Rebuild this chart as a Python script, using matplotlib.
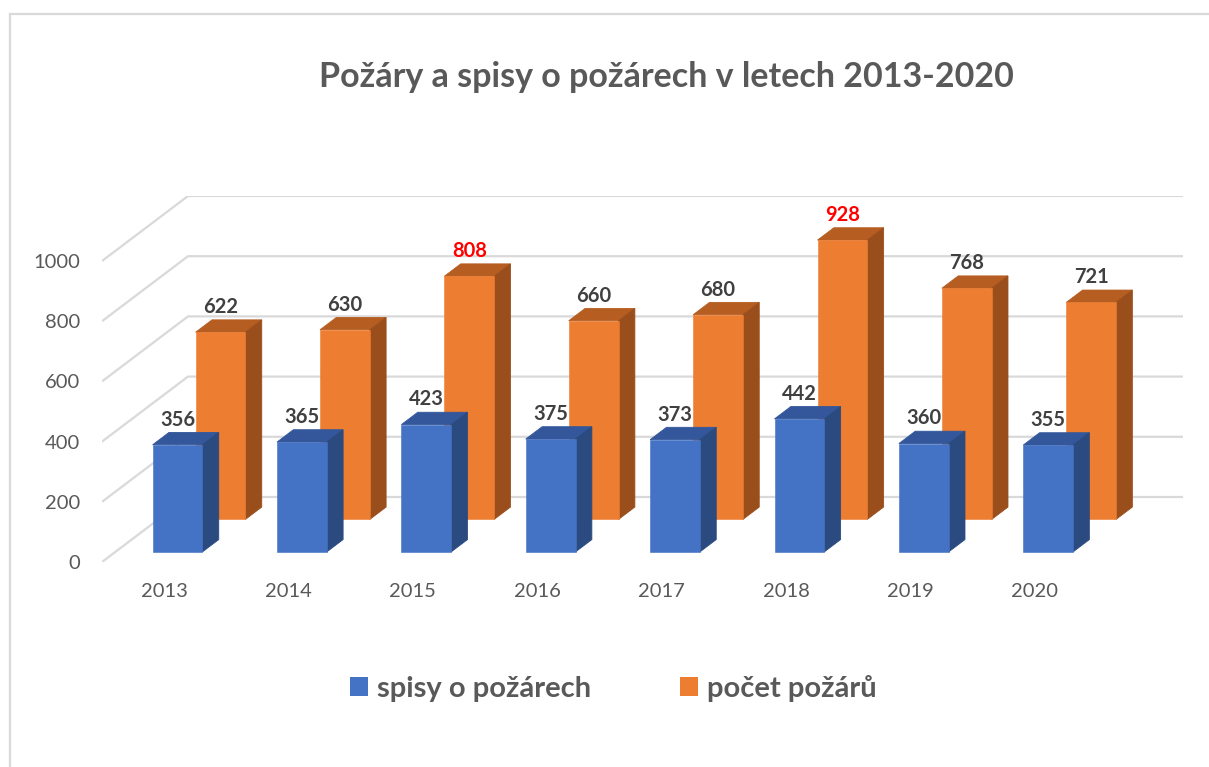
import matplotlib
matplotlib.use("Agg")
import matplotlib.pyplot as plt
from matplotlib.patches import Polygon, Patch
from matplotlib.lines import Line2D

plt.rcParams['font.family'] = ['Lato', 'DejaVu Sans']

# data
years = ['2013', '2014', '2015', '2016', '2017', '2018', '2019', '2020']
spisy = [356, 365, 423, 375, 373, 442, 360, 355]
pozary = [622, 630, 808, 660, 680, 928, 768, 721]
highlight = [2015, 2018]  # years with red labels
y_ticks = [0, 200, 400, 600, 800, 1000]

# pseudo 3d geometry (depth offset in data units)
DX = 0.6915
DY = 216
W = 0.4

W_PX, H_PX = 1209, 767
fig = plt.figure(figsize=(W_PX / 100, H_PX / 100), dpi=100)
ax = fig.add_axes([102 / W_PX, 1 - 562 / H_PX, (1183 - 102) / W_PX, (562 - 196) / H_PX])
ax.set_xlim(-0.5, 7.5 + DX)
ax.set_ylim(0, 1000 + DY)
for s in ax.spines.values():
    s.set_visible(False)

grid_c = '#d9d9d9'
for v in y_ticks:
    ax.plot([-0.5, -0.5 + DX, 7.5 + DX], [v, v + DY, v + DY], color=grid_c, lw=1.6,
            zorder=1, solid_capstyle='butt')


def bars3d(values, d0, d1, front, top, side, z):
    xs = [i + d0 * DX for i in range(len(values))]
    for i, v in enumerate(values):
        x0, x1 = i - W / 2, i + W / 2
        ax.add_patch(Polygon([(x0 + d0 * DX, v + d0 * DY), (x1 + d0 * DX, v + d0 * DY),
                              (x1 + d1 * DX, v + d1 * DY), (x0 + d1 * DX, v + d1 * DY)],
                             closed=True, facecolor=top, edgecolor=top, lw=0.6, zorder=z))
        ax.add_patch(Polygon([(x1 + d0 * DX, d0 * DY), (x1 + d1 * DX, d1 * DY),
                              (x1 + d1 * DX, v + d1 * DY), (x1 + d0 * DX, v + d0 * DY)],
                             closed=True, facecolor=side, edgecolor=side, lw=0.6, zorder=z))
    ax.bar(xs, values, width=W, bottom=d0 * DY, color=front, edgecolor=front, lw=0.4, zorder=z + 0.5)


def labels(values, d0, d1, z):
    for i, v in enumerate(values):
        col = 'red' if int(years[i]) in highlight and values is pozary else '#404040'
        ax.annotate(str(v), (i + d0 * DX, v + d1 * DY), xytext=(0, 2), textcoords='offset points',
                    ha='center', va='bottom', fontsize=14.5, fontweight='bold', color=col, zorder=z)


# back row first, then front row
bars3d(pozary, 0.655, 0.845, '#ed7d31', '#b65d22', '#9a4e1b', 2)
bars3d(spisy, 0.155, 0.345, '#4472c4', '#33579a', '#2a4a80', 3)
labels(pozary, 0.655, 0.845, 5)
labels(spisy, 0.155, 0.345, 5)

ax.set_yticks(y_ticks)
ax.set_yticklabels([str(v) for v in y_ticks])
ax.set_xticks(range(len(years)))
ax.set_xticklabels(years)
ax.tick_params(axis='both', length=0, labelsize=14.5, labelcolor='#595959')
ax.tick_params(axis='y', pad=16)
ax.tick_params(axis='x', pad=15)

fig.text(666 / W_PX, 1 - 87 / H_PX, 'Požáry a spisy o požárech v letech 2013-2020',
         ha='center', va='baseline', fontsize=24.5, fontweight='bold', color='#595959')

handles = [Patch(facecolor='#4472c4', label='spisy o požárech'),
           Patch(facecolor='#ed7d31', label='počet požárů')]
leg = fig.legend(handles=handles, loc='center', bbox_to_anchor=(613 / W_PX, 1 - 688 / H_PX),
                 ncol=2, frameon=False, prop={'size': 21, 'weight': 'bold'},
                 handlelength=0.62, handleheight=0.62, handletextpad=0.31, columnspacing=3.05)
for t in leg.get_texts():
    t.set_color('#595959')

# chart border
fig.add_artist(Line2D([10 / W_PX, 1], [1 - 14 / H_PX, 1 - 14 / H_PX], color=grid_c, lw=1.6))
fig.add_artist(Line2D([10 / W_PX, 10 / W_PX], [0, 1 - 14 / H_PX], color=grid_c, lw=1.6))

fig.savefig('out.png', dpi=100)
